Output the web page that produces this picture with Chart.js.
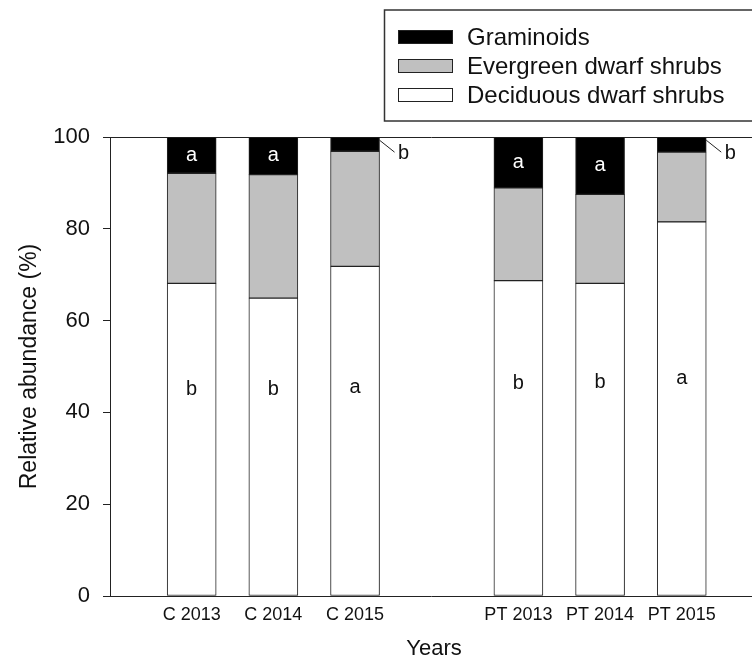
<!DOCTYPE html>
<html>
<head>
<meta charset="utf-8">
<script src="https://cdn.jsdelivr.net/npm/chart.js@4.4.1/dist/chart.umd.min.js"></script>
<style>
    html, body { margin: 0; padding: 0; background: #fff; }
</style>
</head>
<body>
<canvas id="chart" width="752" height="661"></canvas>
<script>
// Bar slots; the empty one is the gap between control and PT
const categories = ['C 2013', 'C 2014', 'C 2015', '', 'PT 2013', 'PT 2014', 'PT 2015'];
const deciduous  = [68.1, 64.9, 71.8, null, 68.7, 68.1, 81.5];
const evergreen  = [24.0, 26.9, 25.1, null, 20.2, 19.4, 15.2];
const graminoids = [7.9, 8.2, 3.1, null, 11.1, 12.5, 3.3];
const yTicks = [0, 20, 40, 60, 80, 100];

// Significance letters
const deciduousLetters = ['b', 'b', 'a', '', 'b', 'b', 'a'];
const graminoidLetters = ['a', 'a', 'b', '', 'a', 'a', 'b'];
const deciduousLetterY = [45.1, 45.1, 45.4, null, 46.2, 46.5, 47.3];

const FONT = '"Liberation Sans", Arial, sans-serif';
const INK = '#111';

function toPoints(values) {
    return values.map((v, i) => ({ x: i + 1, y: v }));
}

// Letters on and beside the bars
const barLetters = {
    id: 'barLetters',
    afterDatasetsDraw(chart) {
        const ctx = chart.ctx;
        const y = chart.scales.y;
        const meta = chart.getDatasetMeta(2);
        ctx.save();
        ctx.font = '20px ' + FONT;
        ctx.textAlign = 'center';
        ctx.textBaseline = 'middle';
        categories.forEach((cat, i) => {
            if (!cat) return;
            const bar = meta.data[i];
            ctx.fillStyle = INK;
            ctx.fillText(deciduousLetters[i], bar.x, y.getPixelForValue(deciduousLetterY[i]));

            if (graminoids[i] >= 5) {
                ctx.fillStyle = '#fff';
                ctx.fillText(graminoidLetters[i], bar.x, (bar.y + bar.base) / 2);
            } else {
                // small segment: letter goes outside with a leader line
                const x0 = bar.x + bar.width / 2;
                ctx.strokeStyle = '#222';
                ctx.lineWidth = 1;
                ctx.beginPath();
                ctx.moveTo(x0, y.getPixelForValue(99.3));
                ctx.lineTo(x0 + 15, y.getPixelForValue(96.7));
                ctx.stroke();
                ctx.fillStyle = INK;
                ctx.fillText(graminoidLetters[i], x0 + 24, y.getPixelForValue(96.4));
            }
        });
        ctx.restore();
    }
};

// Boxed legend + axis titles
const frameText = {
    id: 'frameText',
    afterDraw(chart) {
        const ctx = chart.ctx;
        const area = chart.chartArea;
        ctx.save();

        ctx.strokeStyle = '#333';
        ctx.lineWidth = 1.5;
        ctx.strokeRect(384.5, 10, 380, 111);

        const items = chart.data.datasets.slice().reverse();
        ctx.font = '24px ' + FONT;
        ctx.textAlign = 'left';
        ctx.textBaseline = 'middle';
        items.forEach((ds, k) => {
            const cy = 37 + k * 29;
            ctx.fillStyle = ds.backgroundColor;
            ctx.fillRect(398, cy - 7, 55, 14);
            ctx.strokeStyle = '#222';
            ctx.lineWidth = 1;
            ctx.strokeRect(398.5, cy - 6.5, 54, 13);
            ctx.fillStyle = INK;
            ctx.fillText(ds.label, 467, cy + 1);
        });

        ctx.font = '22px ' + FONT;
        ctx.textAlign = 'center';
        ctx.fillText('Years', 434, 649);

        ctx.font = '23px ' + FONT;
        ctx.translate(30, (area.top + area.bottom) / 2);
        ctx.rotate(-Math.PI / 2);
        ctx.fillText('Relative abundance (%)', 0, 0);
        ctx.restore();
    }
};

const barStyle = {
    borderColor: '#222',
    borderWidth: 1,
    borderSkipped: false,
    barThickness: 49
};

new Chart(document.getElementById('chart'), {
    type: 'bar',
    data: {
        datasets: [
            Object.assign({ label: 'Deciduous dwarf shrubs', data: toPoints(deciduous), backgroundColor: '#ffffff' }, barStyle),
            Object.assign({ label: 'Evergreen dwarf shrubs', data: toPoints(evergreen), backgroundColor: '#c0c0c0' }, barStyle),
            Object.assign({ label: 'Graminoids', data: toPoints(graminoids), backgroundColor: '#000000' }, barStyle)
        ]
    },
    options: {
        responsive: false,
        animation: false,
        devicePixelRatio: 1,
        layout: { padding: { top: 137, left: 0, right: 0, bottom: 0 } },
        plugins: {
            legend: { display: false },
            tooltip: { enabled: false }
        },
        scales: {
            x: {
                type: 'linear',
                stacked: true,
                offset: false,
                min: 0,
                max: 7.86,
                afterFit: scale => { scale.height = 65; },
                afterBuildTicks: scale => {
                    scale.ticks = categories.map((c, i) => ({ value: i + 1 }));
                },
                grid: { display: false, drawTicks: false, offset: false },
                border: { display: true, color: '#222', width: 1 },
                ticks: {
                    autoSkip: false,
                    maxRotation: 0,
                    padding: 8,
                    color: INK,
                    font: { family: FONT, size: 18 },
                    callback: value => categories[value - 1] || ''
                }
            },
            y: {
                stacked: true,
                min: 0,
                max: 100,
                afterFit: scale => { scale.width = 110; },
                afterBuildTicks: scale => {
                    scale.ticks = yTicks.map(v => ({ value: v }));
                },
                grid: {
                    drawOnChartArea: true,
                    color: c => (c.tick && c.tick.value === 100 ? '#222' : 'rgba(0,0,0,0)'),
                    tickColor: '#222',
                    tickLength: 7,
                    lineWidth: 1
                },
                border: { display: true, color: '#222', width: 1 },
                ticks: {
                    padding: 13,
                    color: INK,
                    font: { family: FONT, size: 22 }
                }
            }
        }
    },
    plugins: [barLetters, frameText]
});
</script>
</body>
</html>
